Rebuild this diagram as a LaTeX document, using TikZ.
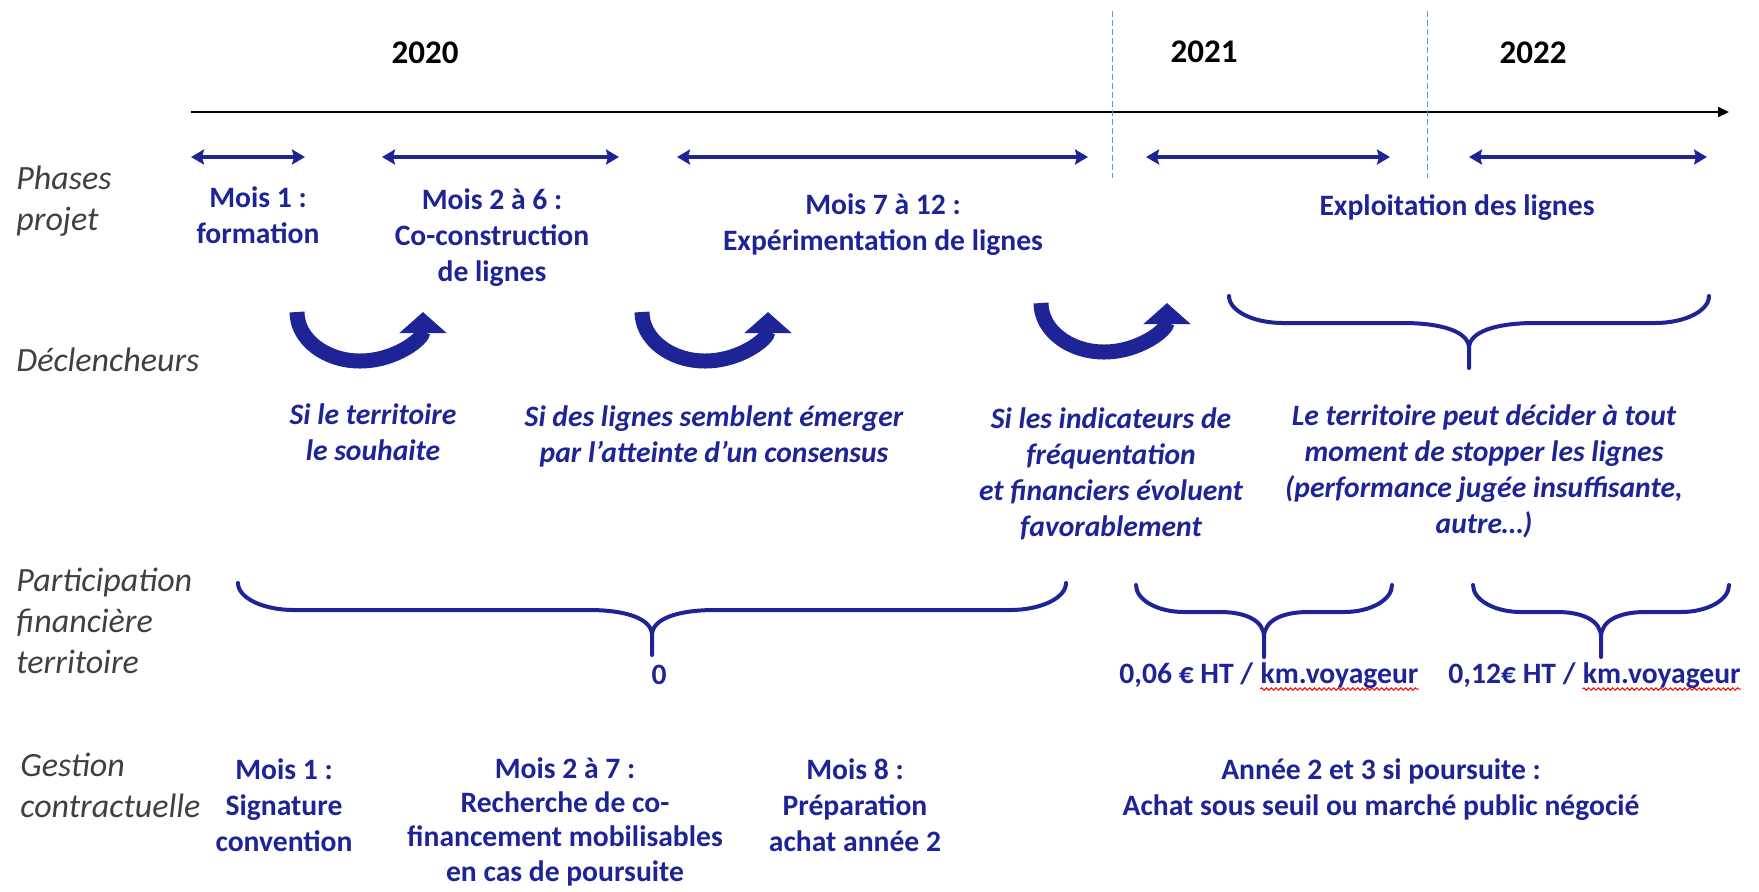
\documentclass[tikz,border=0pt]{standalone}
\usepackage{fontspec}
\setmainfont{Carlito}
\usetikzlibrary{arrows.meta,positioning,decorations.pathmorphing}
\definecolor{planblue}{RGB}{30,36,150}
\definecolor{labelgray}{RGB}{64,64,64}
\definecolor{yearline}{RGB}{91,155,213}
\tikzset{
    yearlabel/.style={
           font=\fontsize{16.5}{20}\selectfont\bfseries,
           text=black
           },
    rowlabel/.style={
           anchor=west,
           inner sep=0pt,
           font=\fontsize{17}{20.5}\selectfont\itshape,
           text=labelgray
           },
    phaselabel/.style={
           inner sep=0pt,
           font=\fontsize{14.8}{18}\selectfont\bfseries,
           text=planblue
           },
    triggerlabel/.style={
           phaselabel,
           font=\fontsize{14.8}{18}\selectfont\bfseries\itshape
           },
    timeaxis/.style={draw=black, line width=1pt, -{Triangle[length=5.5pt,width=5pt]}},
    yeardiv/.style={draw=yearline, line width=0.5pt, dash pattern=on 3pt off 1.5pt},
    phasespan/.style={draw=planblue, line width=1.7pt, <->, >={Stealth[length=6.5pt,width=7.5pt,inset=1pt]}},
    turnarrow/.style={draw=planblue, line width=7.5pt, -{Triangle[length=10.5pt,width=23pt]}},
    curlybrace/.style={draw=planblue, line width=2pt, line join=round, line cap=round},
    squiggle/.style={draw=red, line width=0.5pt, decorate, decoration={snake, amplitude=0.6pt, segment length=2.4pt}},
    pics/bracedown/.style n args={3}{code={
        \draw[curlybrace] (-#1,0) .. controls (-#1,15) and ({-#1+0.45*#2},27) .. ({-#1+#2},27)
            -- ({-#3},27) .. controls ({-0.4*#3},27) and (0,36) .. (0,52) -- (0,72)
            (0,52) .. controls (0,36) and ({0.4*#3},27) .. ({#3},27)
            -- ({#1-#2},27) .. controls ({#1-0.45*#2},27) and (#1,15) .. (#1,0);
        }},
}

\begin{document}
\begin{tikzpicture}[x=0.5pt, y=-0.5pt]
            \useasboundingbox (0,0) rectangle (1759,891);

            % years and time axis
            \node[yearlabel] (Y2020) at (425,53) {2020};
            \node[yearlabel] (Y2021) at (1204,52) {2021};
            \node[yearlabel] (Y2022) at (1533,53) {2022};
            \coordinate (AXstart) at (191,112);
            \coordinate (AXend) at (1729,112);
            \draw[timeaxis] (AXstart) -- (AXend);
            \draw[yeardiv] (1112,11) -- (1112,178);
            \draw[yeardiv] (1427,11) -- (1427,178);

            % row titles
            \node[rowlabel] (ROWphase) at (16,202)
            {\begin{tabular}{@{}l@{}}
              Phases\\
              projet
             \end{tabular}};
            \node[rowlabel] (ROWtrig) at (16,360) {Déclencheurs};
            \node[rowlabel] (ROWpart) at (16,624)
            {\begin{tabular}{@{}l@{}}
              Participation\\
              financière\\
              territoire
             \end{tabular}};
            \node[rowlabel] (ROWgest) at (20,789)
            {\begin{tabular}{@{}l@{}}
              Gestion\\
              contractuelle
             \end{tabular}};

            % project phases
            \coordinate (PH1a) at (191,157);  \coordinate (PH1b) at (305,157);
            \coordinate (PH2a) at (382,157);  \coordinate (PH2b) at (619,157);
            \coordinate (PH3a) at (677,157);  \coordinate (PH3b) at (1088,157);
            \coordinate (PH4a) at (1146,157); \coordinate (PH4b) at (1390,157);
            \coordinate (PH5a) at (1469,157); \coordinate (PH5b) at (1707,157);
            \path
             (PH1a) edge[phasespan] (PH1b)
             (PH2a) edge[phasespan] (PH2b)
             (PH3a) edge[phasespan] (PH3b)
             (PH4a) edge[phasespan] (PH4b)
             (PH5a) edge[phasespan] (PH5b);

            \node[phaselabel] (PHmonth1) at (258,218)
            {\begin{tabular}{c}
              Mois 1 :\\
              formation
             \end{tabular}};
            \node[phaselabel] (PHmonth2) at (492,238)
            {\begin{tabular}{c}
              Mois 2 à 6 :\\
              Co-construction\\
              de lignes
             \end{tabular}};
            \node[phaselabel] (PHmonth7) at (883,225)
            {\begin{tabular}{c}
              Mois 7 à 12 :\\
              Expérimentation de lignes
             \end{tabular}};
            \node[phaselabel] (PHexploit) at (1457,208) {Exploitation des lignes};

            % triggers
            \draw[turnarrow] (297,312) arc[start angle=180, end angle=360, x radius=31.5pt, y radius=24.5pt];
            \draw[turnarrow] (642,312) arc[start angle=180, end angle=360, x radius=31.5pt, y radius=24.5pt];
            \draw[turnarrow] (1041,303) arc[start angle=180, end angle=360, x radius=31.5pt, y radius=24.5pt];
            \pic at (1469,296) {bracedown={240}{54}{66}};

            \node[triggerlabel] (TRterr) at (373,435)
            {\begin{tabular}{c}
              Si le territoire\\
              le souhaite
             \end{tabular}};
            \node[triggerlabel] (TRcons) at (714,437)
            {\begin{tabular}{c}
              Si des lignes semblent émerger\\
              par l’atteinte d’un consensus
             \end{tabular}};
            \node[triggerlabel] (TRind) at (1111,475)
            {\begin{tabular}{c}
              Si les indicateurs de\\
              fréquentation\\
              et financiers évoluent\\
              favorablement
             \end{tabular}};
            \node[triggerlabel] (TRstop) at (1484,472)
            {\begin{tabular}{c}
              Le territoire peut décider à tout\\
              moment de stopper les lignes\\
              (performance jugée insuffisante,\\
              autre…)
             \end{tabular}};

            % financial participation
            \pic at (652,583) {bracedown={414}{56}{63}};
            \pic at (1264,585) {bracedown={128}{48}{44}};
            \pic at (1601,585) {bracedown={128}{48}{44}};
            \node[phaselabel] (PAzero) at (659,675) {0};
            \node[phaselabel, anchor=base west] (PArate1) at (1119,683) {0,06 € HT /};
            \node[phaselabel, base right=3.3pt of PArate1] (PAkm1) {km.voyageur};
            \node[phaselabel, anchor=base west] (PArate2) at (1448,683) {0,12€ HT /};
            \node[phaselabel, base right=3.3pt of PArate2] (PAkm2) {km.voyageur};
            \draw[squiggle] ([yshift=-3pt]PAkm1.base west) -- ([yshift=-3pt]PAkm1.base east);
            \draw[squiggle] ([yshift=-3pt]PAkm2.base west) -- ([yshift=-3pt]PAkm2.base east);

            % contract management
            \node[phaselabel] (CTmonth1) at (284,808)
            {\begin{tabular}{c}
              Mois 1 :\\
              Signature\\
              convention
             \end{tabular}};
            \node[phaselabel] (CTmonth2) at (565,823)
            {\def\arraystretch{0.95}%
             \begin{tabular}{c}
              Mois 2 à 7 :\\
              Recherche de co-\\
              financement mobilisables\\
              en cas de poursuite
             \end{tabular}};
            \node[phaselabel] (CTmonth8) at (855,808)
            {\begin{tabular}{c}
              Mois 8 :\\
              Préparation\\
              achat année 2
             \end{tabular}};
            \node[phaselabel] (CTyears) at (1381,790)
            {\begin{tabular}{c}
              Année 2 et 3 si poursuite :\\
              Achat sous seuil ou marché public négocié
             \end{tabular}};

\end{tikzpicture}
\end{document}
